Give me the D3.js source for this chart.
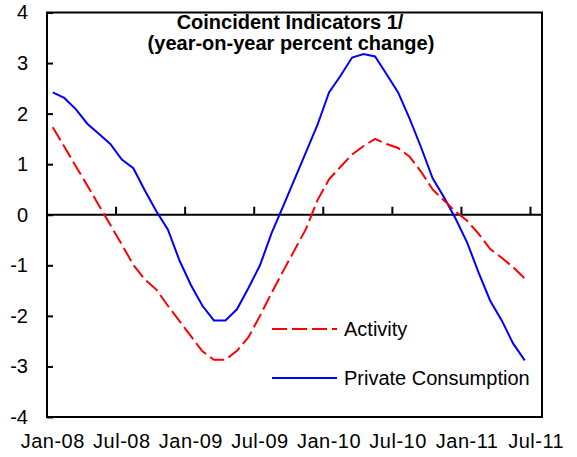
<!DOCTYPE html>
<html>
<head>
<meta charset="utf-8">
<script src="https://cdn.jsdelivr.net/npm/d3@7"></script>
<style>
  html, body { margin: 0; padding: 0; background: #fff; }
  svg text { font-family: "Liberation Sans", Arial, sans-serif; fill: #000; }
</style>
</head>
<body>
<svg id="chart" width="577" height="457"></svg>
<script>
// months on the category axis, Jan-08 .. Jul-11
const monthNames = ['Jan', 'Feb', 'Mar', 'Apr', 'May', 'Jun', 'Jul', 'Aug', 'Sep', 'Oct', 'Nov', 'Dec'];
const months = [];
for (let yr = 8; yr <= 11; yr++) {
  monthNames.forEach((m) => months.push(`${m}-${String(yr).padStart(2, '0')}`));
}
months.length = 43;

const tickLabels = ['Jan-08', 'Jul-08', 'Jan-09', 'Jul-09', 'Jan-10', 'Jul-10', 'Jan-11', 'Jul-11'];
const yTicks = [-4, -3, -2, -1, 0, 1, 2, 3, 4];

// Jan-08 .. Jun-11
const activity = [
  1.73, 1.35, 0.96, 0.58, 0.19, -0.20, -0.59, -0.99, -1.28, -1.48, -1.80, -2.10,
  -2.40, -2.70, -2.87, -2.87, -2.69, -2.42, -2.00, -1.55, -1.12, -0.70, -0.28, 0.29,
  0.70, 0.95, 1.19, 1.36, 1.50, 1.40, 1.32, 1.15, 0.85, 0.50, 0.28, 0.06,
  -0.12, -0.38, -0.68, -0.85, -1.04, -1.26
];
const consumption = [
  2.42, 2.31, 2.09, 1.80, 1.60, 1.40, 1.09, 0.92, 0.48, 0.07, -0.29, -0.90,
  -1.39, -1.80, -2.09, -2.09, -1.87, -1.45, -1.00, -0.37, 0.16, 0.70, 1.24, 1.78,
  2.42, 2.75, 3.11, 3.18, 3.13, 2.78, 2.42, 1.90, 1.33, 0.72, 0.34, -0.08,
  -0.55, -1.15, -1.70, -2.09, -2.55, -2.88
];

const plotLeft = 47, plotRight = 542, plotTop = 12.5, plotBottom = 417;
const svg = d3.select('#chart');

const x = d3.scaleBand().domain(months).range([plotLeft, plotRight]).padding(0);
const y = d3.scaleLinear().domain([-4, 4]).range([plotBottom, plotTop]);
const cx = (i) => x(months[i]) + x.bandwidth() / 2;

// y axis, ticks pointing inward
const yAxis = svg.append('g')
  .attr('transform', `translate(${plotLeft},0)`)
  .call(d3.axisLeft(y).tickValues(yTicks).tickSize(-6).tickPadding(19).tickFormat((d) => String(d)));
yAxis.select('.domain').remove();
yAxis.selectAll('line').attr('stroke', '#000').attr('stroke-width', 2);
yAxis.selectAll('text')
  .attr('font-size', 20)
  .attr('font-family', '"Liberation Sans", Arial, sans-serif')
  .attr('fill', '#000');

// zero line with category ticks every six months
svg.append('line')
  .attr('x1', plotLeft).attr('x2', plotRight)
  .attr('y1', y(0)).attr('y2', y(0))
  .attr('stroke', '#000').attr('stroke-width', 2);

const boundaries = d3.range(6, 43, 6).map((i) => x(months[i]));
svg.selectAll('.xtick')
  .data(boundaries)
  .enter()
  .append('line')
  .attr('x1', (d) => d).attr('x2', (d) => d)
  .attr('y1', y(0)).attr('y2', y(0) - 8)
  .attr('stroke', '#000').attr('stroke-width', 2);

svg.selectAll('.xlabel')
  .data(tickLabels)
  .enter()
  .append('text')
  .attr('x', (d) => cx(months.indexOf(d)))
  .attr('y', 448)
  .attr('text-anchor', 'middle')
  .attr('font-size', 20)
  .attr('letter-spacing', 0.5)
  .text((d) => d);

// series
const line = d3.line()
  .x((d, i) => cx(i))
  .y((d) => y(d));

svg.append('path')
  .datum(consumption)
  .attr('d', line)
  .attr('fill', 'none')
  .attr('stroke', '#0000ff')
  .attr('stroke-width', 2);

svg.append('path')
  .datum(activity)
  .attr('d', line)
  .attr('fill', 'none')
  .attr('stroke', '#ff0000')
  .attr('stroke-width', 2)
  .attr('stroke-dasharray', '15,5');

// plot box
svg.append('rect')
  .attr('x', plotLeft).attr('y', plotTop)
  .attr('width', plotRight - plotLeft).attr('height', plotBottom - plotTop)
  .attr('fill', 'none')
  .attr('stroke', '#000')
  .attr('stroke-width', 2);

// title
svg.append('text')
  .attr('x', 290).attr('y', 29)
  .attr('text-anchor', 'middle')
  .attr('font-size', 20).attr('font-weight', 'bold')
  .text('Coincident Indicators 1/');
svg.append('text')
  .attr('x', 291).attr('y', 50)
  .attr('text-anchor', 'middle')
  .attr('font-size', 20).attr('font-weight', 'bold')
  .text('(year-on-year percent change)');

// legend
const legend = [
  { name: 'Activity', color: '#ff0000', dash: '15,5', y: 329 },
  { name: 'Private Consumption', color: '#0000ff', dash: null, y: 378 },
];
const lg = svg.selectAll('.legend')
  .data(legend)
  .enter()
  .append('g');
lg.append('line')
  .attr('x1', 272).attr('x2', 337)
  .attr('y1', (d) => d.y).attr('y2', (d) => d.y)
  .attr('stroke', (d) => d.color)
  .attr('stroke-width', 2)
  .attr('stroke-dasharray', (d) => d.dash);
lg.append('text')
  .attr('x', 344)
  .attr('y', (d) => d.y + 7)
  .attr('font-size', 20)
  .text((d) => d.name);
</script>
</body>
</html>
